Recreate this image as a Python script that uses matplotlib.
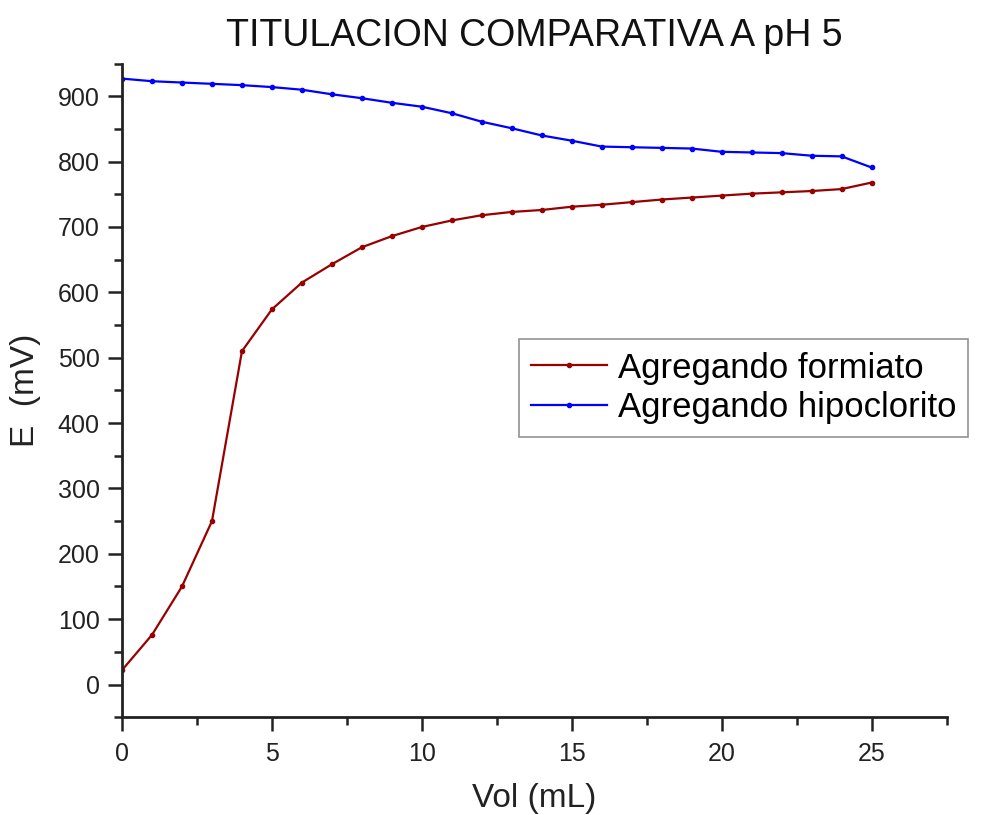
import matplotlib
matplotlib.use("Agg")
import matplotlib.pyplot as plt
from matplotlib.ticker import MultipleLocator

plt.rcParams["font.family"] = ["Liberation Sans", "DejaVu Sans"]

vol = list(range(26))
formiato = [22, 76, 150, 250, 510, 574, 615, 643, 669, 686, 700, 710, 718, 723, 726, 731,
            734, 738, 742, 745, 748, 751, 753, 755, 758, 768]
hipoclorito = [927, 923, 921, 919, 917, 914, 910, 903, 897, 890, 884, 874, 861, 851, 840, 832,
               823, 822, 821, 820, 815, 814, 813, 809, 808, 791]

fig = plt.figure(figsize=(9.84, 8.15), dpi=100)
ax = fig.add_axes([0.124, 0.120, 0.838, 0.802])

ax.plot(vol, formiato, color="#990000", lw=1.6, marker="o", ms=3, label="Agregando formiato")
ax.plot(vol, hipoclorito, color="#0000ff", lw=1.6, marker="o", ms=3, label="Agregando hipoclorito")

ax.set_xlim(0, 27.5)
ax.set_ylim(-50, 950)
ax.xaxis.set_major_locator(MultipleLocator(5))
ax.xaxis.set_minor_locator(MultipleLocator(2.5))
ax.yaxis.set_major_locator(MultipleLocator(100))
ax.yaxis.set_minor_locator(MultipleLocator(50))
for s in ["top", "right"]:
    ax.spines[s].set_visible(False)
for s in ["left", "bottom"]:
    ax.spines[s].set_linewidth(2)
    ax.spines[s].set_color("#222222")
ax.tick_params(which="major", length=10, width=1.8, labelsize=18, color="#222222", labelcolor="#222222", pad=6)
ax.tick_params(which="minor", length=6, width=1.8, color="#222222")
ax.tick_params(axis="x", which="major", pad=8)

ax.set_xlabel("Vol (mL)", fontsize=24, color="#222222", labelpad=12)
ax.set_ylabel("E  (mV)", fontsize=24, color="#222222", labelpad=12)
ax.set_title("TITULACION COMPARATIVA A pH 5", fontsize=27, color="#111111", pad=13)

leg = ax.legend(loc="upper left", bbox_to_anchor=(0.481, 0.578), fontsize=25, frameon=True,
                fancybox=False, edgecolor="#777777", handlelength=2.2, handletextpad=0.3,
                borderpad=0.35, labelspacing=0.2, borderaxespad=0)
leg.get_frame().set_linewidth(1.2)

fig.savefig("out.png", dpi=100, facecolor="white")
